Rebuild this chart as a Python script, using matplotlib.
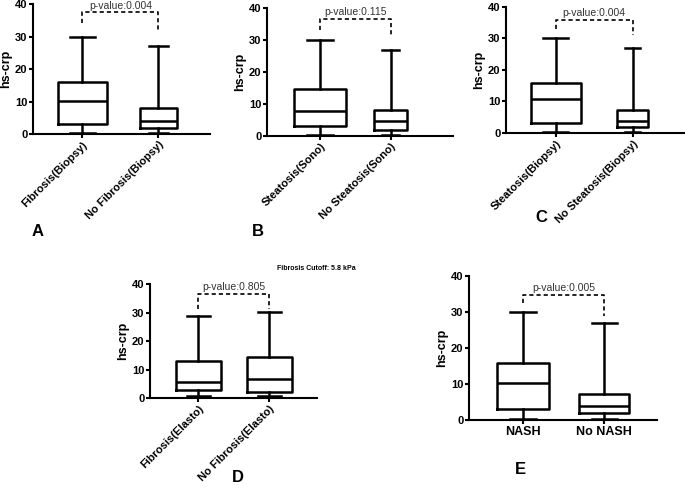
import matplotlib
matplotlib.use("Agg")
import matplotlib.pyplot as plt

plt.rcParams['font.family'] = ['Liberation Sans', 'DejaVu Sans']

# box stats: whislo, q1, median, q3, whishi
a_labels = ["Fibrosis(Biopsy)", "No Fibrosis(Biopsy)"]
a_stats = [[0.3, 3.0, 10.3, 16.0, 30.0], [0.3, 2.0, 4.0, 8.0, 27.0]]
a_p = "p-value:0.004"

b_labels = ["Steatosis(Sono)", "No Steatosis(Sono)"]
b_stats = [[0.3, 3.0, 7.8, 14.8, 30.0], [0.3, 1.8, 4.7, 8.0, 27.0]]
b_p = "p-value:0.115"

c_labels = ["Steatosis(Biopsy)", "No Steatosis(Biopsy)"]
c_stats = [[0.3, 3.3, 10.7, 16.0, 30.0], [0.3, 2.0, 3.8, 7.2, 27.0]]
c_p = "p-value:0.004"

d_labels = ["Fibrosis(Elasto)", "No Fibrosis(Elasto)"]
d_stats = [[0.6, 2.9, 5.6, 13.1, 28.9], [0.6, 2.2, 6.5, 14.3, 30.1]]
d_p = "p-value:0.805"

e_labels = ["NASH", "No NASH"]
e_stats = [[0.3, 3.2, 10.4, 15.9, 30.0], [0.3, 1.9, 3.8, 7.1, 27.0]]
e_p = "p-value:0.005"

fig = plt.figure(figsize=(6.85, 4.88), dpi=100)


def panel(rect, labels, stats, ptext, xlim, widths, bracket, rotate=True):
    ax = fig.add_axes(rect)
    bxp_stats = []
    for lab, s in zip(labels, stats):
        bxp_stats.append({"whislo": s[0], "q1": s[1], "med": s[2],
                          "q3": s[3], "whishi": s[4], "label": lab})
    lw = 1.8
    ax.bxp(bxp_stats, positions=[1, 2], widths=widths, showfliers=False,
           capwidths=[w * 0.5 for w in widths],
           boxprops=dict(linewidth=lw, color="black"),
           medianprops=dict(linewidth=lw, color="black"),
           whiskerprops=dict(linewidth=lw, color="black"),
           capprops=dict(linewidth=lw, color="black"))
    ax.set_xlim(*xlim)
    ax.set_ylim(0, 40)
    ax.set_yticks([0, 10, 20, 30, 40])
    ax.spines[['top', 'right']].set_visible(False)
    ax.spines[['left', 'bottom']].set_linewidth(1.5)
    ax.tick_params(width=1.5, length=3, labelsize=8, pad=1)
    for t in ax.get_yticklabels():
        t.set_fontweight('bold')
    if rotate:
        ax.set_xticklabels(labels, rotation=45, ha='right',
                           rotation_mode='anchor', fontweight='bold', fontsize=8)
    else:
        ax.set_xticklabels(labels, fontweight='bold', fontsize=9)
    ax.set_ylabel("hs-crp", fontweight='bold', fontsize=9, labelpad=2)
    top, left_end, right_end = bracket
    ax.plot([1, 1, 2, 2], [left_end, top, top, right_end], color="black",
            lw=1.2, ls=(0, (2.5, 1.8)), clip_on=False)
    ax.text(1.5, top + 0.6, ptext, ha='center', va='bottom', fontsize=7.5,
            color="#333333")
    return ax


panel([0.048, 0.7254, 0.258, 0.2664], a_labels, a_stats, a_p,
      (0.349, 2.675), [0.644, 0.486], (37.4, 34.3, 31.5))
panel([0.3898, 0.7213, 0.2715, 0.2623], b_labels, b_stats, b_p,
      (0.248, 2.886), [0.737, 0.468], (36.5, 33.0, 31.0))
panel([0.7387, 0.7275, 0.2613, 0.2582], c_labels, c_stats, c_p,
      (0.348, 2.684), [0.652, 0.405], (35.8, 33.0, 31.0))
panel([0.219, 0.1844, 0.2438, 0.2336], d_labels, d_stats, d_p,
      (0.318, 2.67), [0.634, 0.634], (36.6, 31.2, 31.2))
panel([0.6847, 0.1393, 0.2745, 0.2951], e_labels, e_stats, e_p,
      (0.334, 2.654), [0.642, 0.617], (34.8, 32.4, 29.0), rotate=False)

fig.text(316 / 685, 1 - 268 / 488, "Fibrosis Cutoff: 5.8 kPa", ha='center',
         va='center', fontsize=5, fontweight='bold')

for letter, x, y in [("A", 38, 232), ("B", 258, 231), ("C", 541, 218),
                     ("D", 238, 477), ("E", 520, 470)]:
    fig.text(x / 685, 1 - y / 488, letter, ha='center', va='center',
             fontsize=12, fontweight='bold')

fig.savefig("out.png", dpi=100)
